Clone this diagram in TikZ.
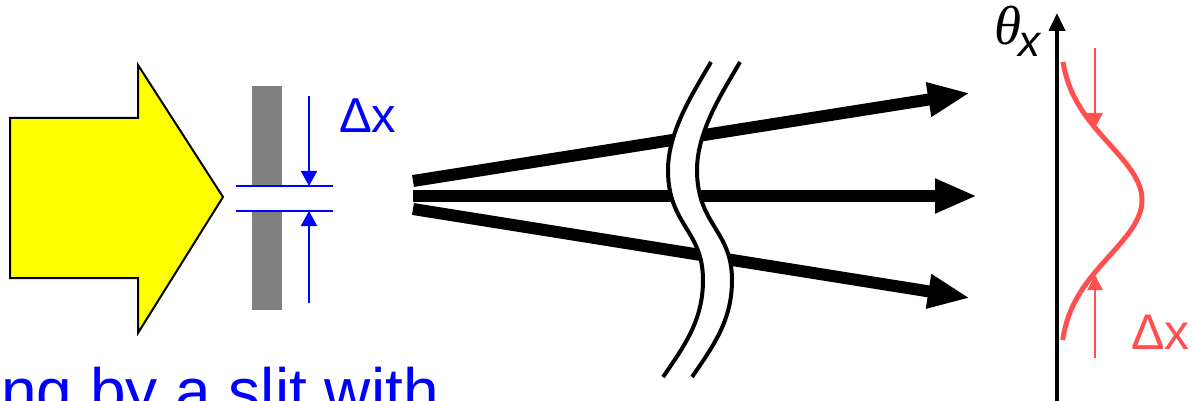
\documentclass[tikz,border=0pt]{standalone}
\usepackage{fontspec}
\setmainfont{Liberation Sans}
\newfontfamily\serifit{Liberation Serif}
\usetikzlibrary{arrows.meta}
\definecolor{slitgray}{HTML}{808080}
\definecolor{pulsered}{HTML}{FF4F4F}
\definecolor{pureblue}{HTML}{0000FF}
\definecolor{beamyellow}{HTML}{FFFF00}
\tikzset{
  lbl/.style={inner sep=0pt, anchor=base west},
  ray/.style={line width=12pt, -{Triangle[length=42pt,width=32pt]}},
  bluearr/.style={pureblue, line width=2pt, -{Triangle[length=15pt,width=16pt]}},
  redarr/.style={pulsered, line width=2.2pt, -{Triangle[length=15pt,width=15pt]}},
  breakline/.style={line width=4pt},
}
\begin{document}
\begin{tikzpicture}[x=1pt,y=-1pt]
\useasboundingbox (0,0) rectangle (1192,401);
% yellow arrow
\draw[fill=beamyellow, line width=2pt, line join=miter]
  (10,118) -- (138,118) -- (138,65) -- (223,197) -- (138,333) -- (138,278) -- (10,278) -- cycle;
% slit
\fill[slitgray] (252,86) rectangle (282,185);
\fill[slitgray] (252,212) rectangle (282,310);
\draw[pureblue, line width=2.5pt] (236,186) -- (333,186);
\draw[pureblue, line width=2.5pt] (236,211) -- (333,211);
\coordinate (ta) at (309,96);
\coordinate (tb) at (309,186);
\coordinate (ba) at (309,303);
\coordinate (bb) at (309,211);
\draw[bluearr] (ta) -- (tb);
\draw[bluearr] (ba) -- (bb);
\node[lbl, pureblue, font=\fontsize{49}{58}\selectfont] (dx) at (339,133) {Δx};
% rays
\coordinate (r1s) at (413,181); \coordinate (r1e) at (970,93);
\coordinate (r2s) at (413,196); \coordinate (r2e) at (977,196);
\coordinate (r3s) at (413,209); \coordinate (r3e) at (970,298);
\draw[ray] (r1s) -- (r1e);
\draw[ray] (r2s) -- (r2e);
\draw[ray] (r3s) -- (r3e);
% break mark
\fill[white] (711,62) .. controls (695,90) and (668,130) .. (668,170)
  .. controls (668,225) and (703,230) .. (703,280)
  .. controls (703,320) and (685,345) .. (663,377)
  -- (692,377) .. controls (714,345) and (732,320) .. (732,280)
  .. controls (732,230) and (697,225) .. (697,170)
  .. controls (697,130) and (724,90) .. (740,62) -- cycle;
\draw[breakline] (711,62) .. controls (695,90) and (668,130) .. (668,170)
  .. controls (668,225) and (703,230) .. (703,280)
  .. controls (703,320) and (685,345) .. (663,377);
\draw[breakline] (740,62) .. controls (724,90) and (697,130) .. (697,170)
  .. controls (697,225) and (732,230) .. (732,280)
  .. controls (732,320) and (714,345) .. (692,377);
% axis
\coordinate (axb) at (1057,410);
\coordinate (axt) at (1057,13);
\draw[line width=4pt, -{Triangle[length=18pt,width=16pt]}] (axb) -- (axt);
\node[lbl, font=\fontsize{55}{60}\selectfont] (theta) at (994,45) {\serifit\itshape θ};
\node[lbl, font=\fontsize{44}{50}\selectfont\itshape] (thx) at (1018,57) {x};
% gaussian
\draw[pulsered, line width=5pt] plot[domain=62:340, samples=120, smooth]
  ({1059+83*exp(-((\x-200)/56)^2/2)}, \x);
\coordinate (pa) at (1095,48);
\coordinate (pb) at (1095,128);
\coordinate (pc) at (1095,358);
\coordinate (pd) at (1095,275);
\draw[redarr] (pa) -- (pb);
\draw[redarr] (pc) -- (pd);
\node[lbl, pulsered, font=\fontsize{50}{58}\selectfont] (dx2) at (1131,349) {Δx};
% bottom text
\node[lbl, pureblue, font=\fontsize{64}{70}\selectfont] (cap) at (1,413) {ng by a slit with};
\end{tikzpicture}
\end{document}
